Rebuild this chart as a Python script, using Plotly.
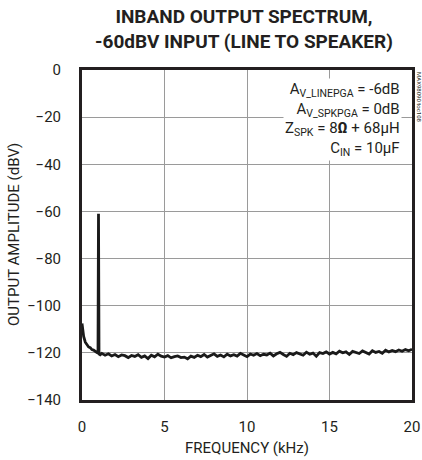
import numpy as np
import plotly.graph_objects as go

# low-frequency start and the 1kHz tone
freq_inicio = [0, 0.05, 0.1, 0.2, 0.3, 0.4, 0.5, 0.6, 0.7, 0.8, 0.9, 0.97, 1.0, 1.03, 1.1]
amp_inicio = [-107.5, -110, -113, -115.5, -116.5, -117.5, -117.8, -118.6, -118.8,
              -119.5, -119.8, -120, -61, -120.5, -120.8]

# noise floor, 1.2kHz .. 20kHz every 0.2kHz
freq_ruido = list(np.round(np.arange(1.2, 20.01, 0.2), 1))
amp_ruido = [
    -120.2, -121.0, -120.4, -121.3, -120.7, -121.6, -120.9, -121.2, -122.0, -121.1,
    -121.5, -120.8, -121.9, -121.3, -122.4, -121.0, -121.7, -120.6, -121.4, -121.8,
    -121.2, -122.1, -121.6, -121.3, -122.0, -121.8, -122.5, -121.4, -121.9, -121.0,
    -121.6, -120.7, -121.8, -121.2, -120.4, -121.5, -120.9, -121.7, -120.6, -121.3,
    -120.8, -121.4, -120.2, -120.9, -121.6, -120.5, -121.0, -120.3, -121.2, -120.6,
    -120.9, -120.1, -121.3, -120.4, -119.8, -120.7, -121.5, -120.2, -120.8, -119.9,
    -120.5, -121.0, -119.7, -120.6, -120.1, -121.4, -119.9, -120.3, -119.6, -120.5,
    -119.8, -120.4, -119.3, -120.0, -119.6, -120.7, -119.4, -119.9, -120.3, -119.2,
    -119.7, -120.5, -119.1, -119.8, -119.4, -120.2, -118.9, -119.6, -119.0, -119.5,
    -118.8, -119.3, -118.6, -119.1, -118.5,
]

freq = freq_inicio + freq_ruido
amp = amp_inicio + amp_ruido

fonte = "Roboto, Liberation Sans, sans-serif"

titulo = "<b>INBAND OUTPUT SPECTRUM,<br>-60dBV INPUT (LINE TO SPEAKER)</b>"
texto = ("A<sub>V_LINEPGA</sub> = -6dB<br>"
         "A<sub>V_SPKPGA</sub> = 0dB<br>"
         "Z<sub>SPK</sub> = 8<b>Ω</b> + 68µH<br>"
         "C<sub>IN</sub> = 10µF")

fig = go.Figure()
fig.add_trace(go.Scatter(x=freq, y=amp, mode="lines",
                         line=dict(color="#1a1a1a", width=2.8)))

fig.update_layout(
    width=422, height=460,
    margin=dict(l=82, r=10, t=70, b=60, autoexpand=False),
    paper_bgcolor="white", plot_bgcolor="white",
    showlegend=False,
    font=dict(family=fonte, size=15, color="#231f20"),
)
fig.update_xaxes(range=[0, 20], dtick=5, showgrid=True, gridcolor="#9a9a9a", gridwidth=1,
                 showline=True, mirror=True, linecolor="#231f20", linewidth=3,
                 zeroline=False, ticks="", ticklabelstandoff=11, automargin=False,
                 title=dict(text="FREQUENCY (kHz)", standoff=8, font=dict(size=15)))
fig.update_yaxes(range=[-140, 0], dtick=20, showgrid=True, gridcolor="#9a9a9a", gridwidth=1,
                 showline=True, mirror=True, linecolor="#231f20", linewidth=3,
                 zeroline=False, ticks="", ticklabelstandoff=15, automargin=False)

fig.add_annotation(x=0, y=0.5, xref="paper", yref="paper", xshift=-68,
                   text="OUTPUT AMPLITUDE (dBV)", textangle=-90, showarrow=False,
                   xanchor="center", yanchor="middle", font=dict(size=15))
fig.add_annotation(x=0.49, y=1, xref="paper", yref="paper", yshift=67, text=titulo,
                   showarrow=False, xanchor="center", yanchor="top",
                   font=dict(size=19))
fig.add_annotation(x=0.97, y=0.975, xref="paper", yref="paper", text=texto,
                   showarrow=False, align="right", xanchor="right", yanchor="top",
                   bgcolor="white", font=dict(size=15))
fig.add_annotation(x=1.006, y=1.0, xref="paper", yref="paper", text="MAX98090 toc108",
                   showarrow=False, textangle=90, xanchor="left", yanchor="top",
                   font=dict(size=6))

# no body margin, so the figure fills the window exactly
fig.write_html("out.html", config={"displayModeBar": False},
               post_script="document.body.style.margin='0';")
